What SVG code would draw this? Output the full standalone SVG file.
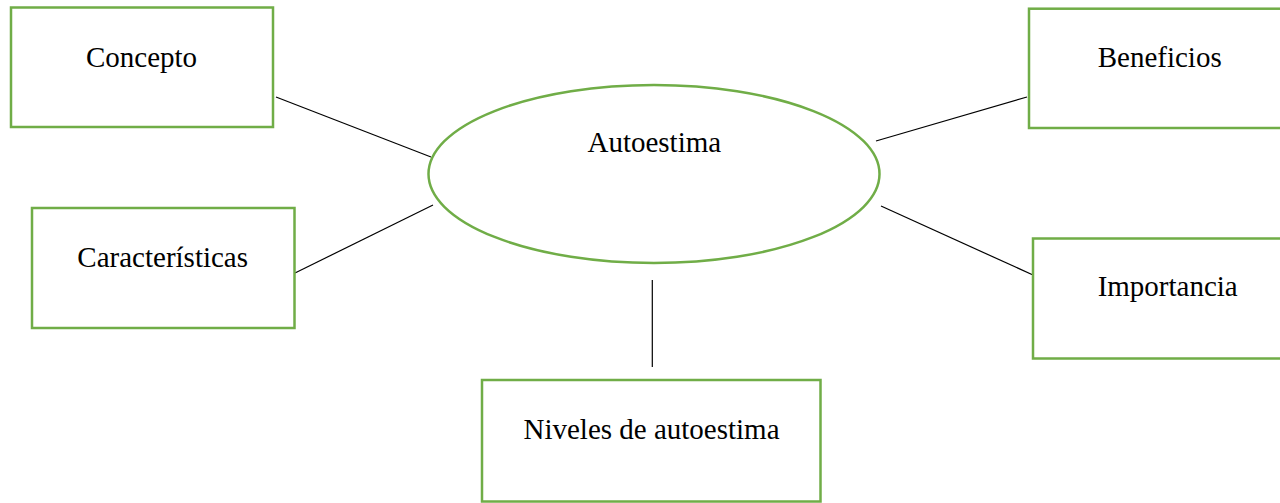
<svg xmlns="http://www.w3.org/2000/svg" width="1280" height="503" viewBox="0 0 1280 503">
<style>
.box{fill:#fff;stroke:#70AD47;stroke-width:2.5}
.lbl{font-family:"Liberation Serif","Times New Roman",serif;font-size:29px;fill:#000;text-anchor:middle}
.con line{stroke:#000;stroke-width:1.2}
</style>
<rect width="1280" height="503" fill="#fff"/>
<g class="con" id="connectors">
<line x1="276" y1="97" x2="431" y2="157"/>
<line x1="295" y1="273" x2="433" y2="205"/>
<line x1="876" y1="141" x2="1027" y2="97"/>
<line x1="881" y1="206" x2="1033" y2="275"/>
<line x1="652.3" y1="280" x2="652.3" y2="367"/>
</g>
<g id="autoestima">
<ellipse class="box" cx="654" cy="174" rx="225.5" ry="89"/>
<text class="lbl" x="654.3" y="151.5">Autoestima</text>
</g>
<g id="concepto">
<rect class="box" x="11" y="7.5" width="262" height="119.5"/>
<text class="lbl" x="141.5" y="66.5">Concepto</text>
</g>
<g id="caracteristicas">
<rect class="box" x="32" y="208" width="262.5" height="120"/>
<text class="lbl" x="162.7" y="266.7">Características</text>
</g>
<g id="beneficios">
<rect class="box" x="1029" y="8.7" width="270" height="119.3"/>
<text class="lbl" x="1159.7" y="66.7">Beneficios</text>
</g>
<g id="importancia">
<rect class="box" x="1033" y="238.5" width="270" height="120"/>
<text class="lbl" x="1167.7" y="296">Importancia</text>
</g>
<g id="niveles">
<rect class="box" x="482" y="380" width="338.5" height="121.5"/>
<text class="lbl" x="651.5" y="439.3">Niveles de autoestima</text>
</g>
</svg>
